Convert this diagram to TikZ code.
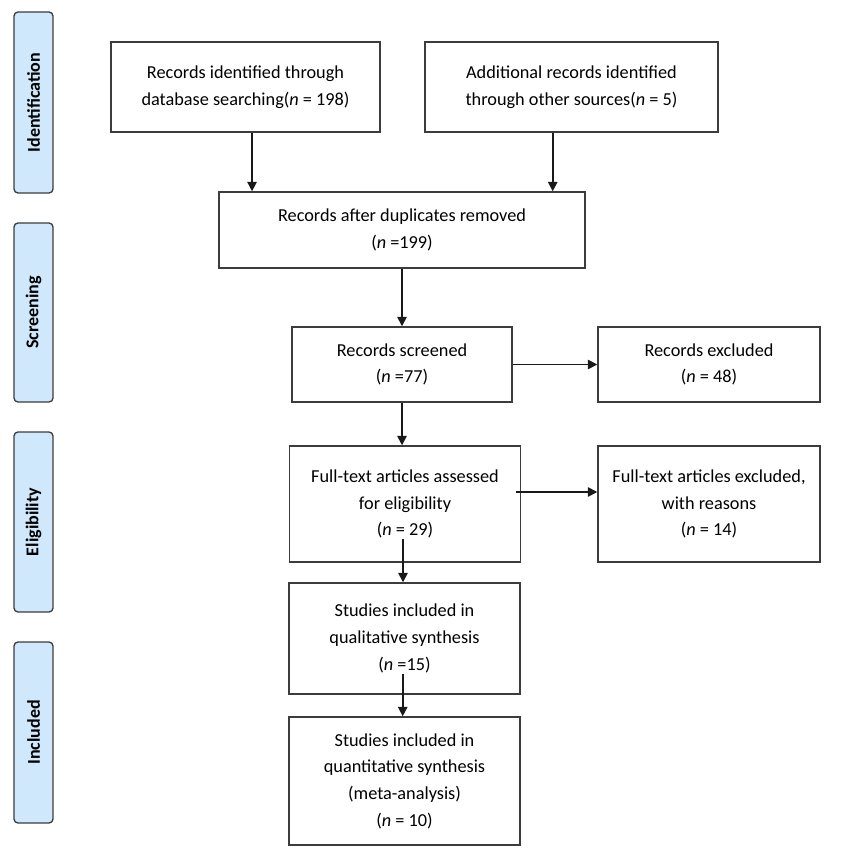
\documentclass[tikz,border=0pt]{standalone}
\usepackage{fontspec}
\setmainfont{Carlito}
\usetikzlibrary{arrows.meta}
\definecolor{phasefill}{RGB}{207,232,251}
\definecolor{phaseline}{RGB}{60,60,60}
\definecolor{boxline}{RGB}{60,60,60}
\begin{document}
\begin{tikzpicture}[x=0.75pt, y=-0.75pt,
  box/.style={draw=boxline, line width=1.1pt, align=center, inner sep=0pt,
    font=\fontsize{13.7}{20}\selectfont},
  phase/.style={draw=phaseline, fill=phasefill, line width=1pt, rounded corners=3pt,
    rotate=90, minimum height=29.25pt, inner sep=0pt,
    font=\bfseries\fontsize{13.5}{15}\selectfont},
  flow/.style={-{Triangle[length=7pt, width=7pt]}, line width=1.2pt, black!90}]
  \useasboundingbox (0,0) rectangle (840,855);

  % Phase labels on the left
  \node[phase, minimum width=135.75pt] (ident) at (33.5,102.5) {Identification};
  \node[phase, minimum width=134.25pt] (screen) at (33.5,312.5) {Screening};
  \node[phase, minimum width=135pt] (elig) at (33.5,522) {Eligibility};
  \node[phase, minimum width=135.75pt] (incl) at (33.5,732.5) {Included};

  % Identification
  \node[box, minimum width=201.75pt, minimum height=67.5pt] (db) at (245.5,87)
    {Records identified through\\database searching(\textit{n} = 198)};
  \node[box, minimum width=219.75pt, minimum height=67.5pt] (other) at (571.5,87)
    {Additional records identified\\through other sources(\textit{n} = 5)};
  \node[box, minimum width=274.5pt, minimum height=57pt] (dup) at (402,230)
    {Records after duplicates removed\\(\textit{n} =199)};

  % Screening
  \node[box, minimum width=165pt, minimum height=56.25pt] (scr) at (402,364.5)
    {Records screened\\(\textit{n} =77)};
  \node[box, minimum width=166.5pt, minimum height=56.25pt] (excl) at (709,364.5)
    {Records excluded\\(\textit{n} = 48)};

  % Eligibility
  \node[box, minimum width=173.25pt, minimum height=87pt] (full) at (405,504)
    {Full-text articles assessed\\for eligibility\\(\textit{n} = 29)};
  \node[box, minimum width=166.5pt, minimum height=87pt] (fullx) at (709,504)
    {Full-text articles excluded,\\with reasons\\(\textit{n} = 14)};

  % Included
  \node[box, minimum width=173.25pt, minimum height=83.25pt] (qual) at (404.5,638.5)
    {Studies included in\\qualitative synthesis\\(\textit{n} =15)};
  \node[box, minimum width=173.25pt, minimum height=96pt] (quant) at (404.5,781)
    {Studies included in\\quantitative synthesis\\(meta-analysis)\\(\textit{n} = 10)};

  % Arrows
  \coordinate (dbout) at ([xshift=4.9pt]db.south);
  \coordinate (otherout) at ([xshift=-14.1pt]other.south);
  \coordinate (fullout) at ([xshift=-3.75pt, yshift=9pt]full.east);
  \coordinate (fulldown) at ([xshift=-1.5pt, yshift=18pt]full.south);
  \coordinate (qualdown) at ([xshift=-1.35pt, yshift=15.75pt]qual.south);
  \draw[flow] (dbout) -- (dbout |- dup.north);
  \draw[flow] (otherout) -- (otherout |- dup.north);
  \draw[flow] (dup.south) -- (dup.south |- scr.north);
  \draw[flow] (scr.east) -- (excl.west);
  \draw[flow] (scr.south) -- (scr.south |- full.north);
  \draw[flow] (fullout) -- (fullout -| fullx.west);
  \draw[flow] (fulldown) -- (fulldown |- qual.north);
  \draw[flow] (qualdown) -- (qualdown |- quant.north);
\end{tikzpicture}
\end{document}
